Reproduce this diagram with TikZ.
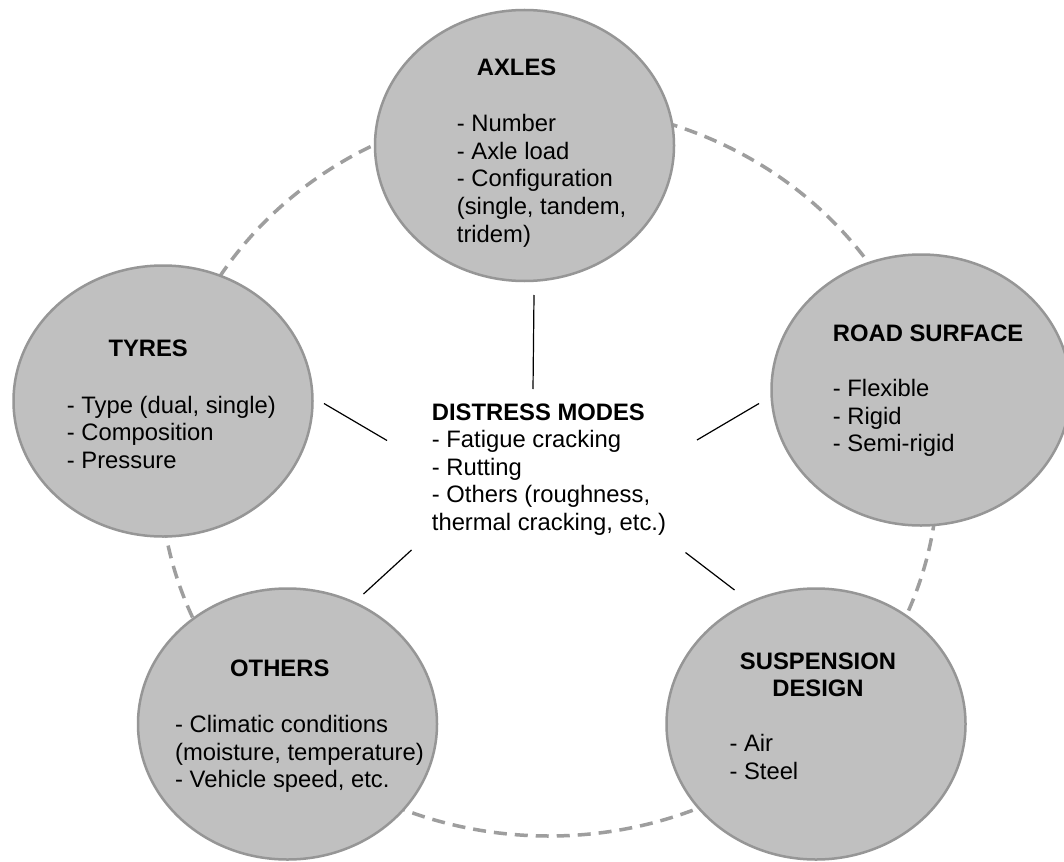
\documentclass[tikz,border=0pt]{standalone}
\usepackage{fontspec}
\setmainfont{Liberation Sans}
\usetikzlibrary{shapes.geometric}
\definecolor{fillgray}{RGB}{192,192,192}
\definecolor{ringgray}{RGB}{150,150,150}
\definecolor{dashgray}{RGB}{158,158,158}
\newcommand{\fsz}{\fontsize{23.8}{27.6}\selectfont}
\newcommand{\linesL}[1]{\begin{tabular}[t]{@{}l@{}}#1\end{tabular}}
\newcommand{\linesC}[1]{\begin{tabular}[t]{@{}c@{}}#1\end{tabular}}
\tikzset{
  factor/.style={ellipse, draw=ringgray, line width=2.5pt, fill=fillgray,
    minimum width=299pt, minimum height=271pt, inner sep=0pt},
  ttl/.style={anchor=base west, inner sep=0pt, font=\fsz\bfseries},
  itm/.style={anchor=base west, inner sep=0pt, font=\fsz},
  link/.style={draw=black, line width=1.2pt},
  ring/.style={draw=dashgray, line width=3.5pt, dash pattern=on 13pt off 8pt},
}
\begin{document}
\begin{tikzpicture}[x=1pt,y=-1pt]
\useasboundingbox (0,0) rectangle (1064,861);
\fill[white] (0,0) rectangle (1064,861);
% dashed ring
\node[ellipse, ring, minimum width=778pt, minimum height=730pt, inner sep=0pt] (ringshape) at (549,471) {};
% factor ellipses
\node[factor] (axles) at (524.5,145.5) {};
\node[factor] (tyres) at (163,401) {};
\node[factor] (road) at (921,390) {};
\node[factor] (others) at (287.5,724) {};
\node[factor] (susp) at (816,724) {};
% texts
\node[ttl] (axt) at (476.7,76) {AXLES};
\node[itm] (axi) at (456.7,131.7) {\linesL{- Number\\- Axle load\\- Configuration\\(single, tandem,\\tridem)}};
\node[ttl] (tyt) at (108.3,356.7) {TYRES};
\node[itm] (tyi) at (66.7,413.3) {\linesL{- Type (dual, single)\\- Composition\\- Pressure}};
\node[ttl] (rst) at (832.7,341.7) {ROAD SURFACE};
\node[itm] (rsi) at (832.7,396.7) {\linesL{- Flexible\\- Rigid\\- Semi-rigid}};
\node[ttl] (ott) at (230,676.7) {OTHERS};
\node[itm] (oti) at (175,732.7) {\linesL{- Climatic conditions\\(moisture, temperature)\\- Vehicle speed, etc.}};
\node[ttl, anchor=base] (sut) at (818,669.3) {\linesC{SUSPENSION\\DESIGN}};
\node[itm] (sui) at (729.3,751.7) {\linesL{- Air\\- Steel}};
\node[itm] (dm) at (431.7,420) {\linesL{\textbf{DISTRESS MODES}\\- Fatigue cracking\\- Rutting\\- Others (roughness,\\thermal cracking, etc.)}};
% connector ends
\coordinate (c1a) at (534,295);
\coordinate (c1b) at (533,389);
\coordinate (c2a) at (324,403.5);
\coordinate (c2b) at (387,440.5);
\coordinate (c3a) at (697,440);
\coordinate (c3b) at (759,403.5);
\coordinate (c4a) at (411.5,550);
\coordinate (c4b) at (363.5,594);
\coordinate (c5a) at (685.5,552.5);
\coordinate (c5b) at (734.5,590);
\draw[link] (c1a) -- (c1b);
\draw[link] (c2a) -- (c2b);
\draw[link] (c3a) -- (c3b);
\draw[link] (c4a) -- (c4b);
\draw[link] (c5a) -- (c5b);
\end{tikzpicture}
\end{document}
